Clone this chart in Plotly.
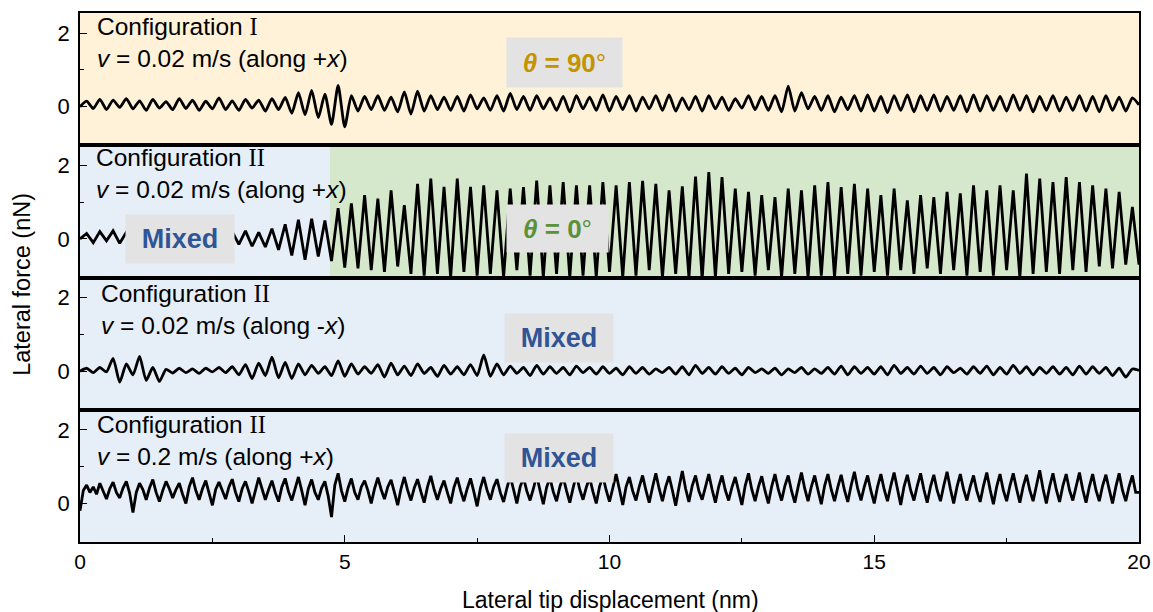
import numpy as np
import plotly.graph_objects as go
from plotly.subplots import make_subplots

# ---------------- data (lateral force, nN) ----------------
STEP_A = 0.125     # nm, sampling of panels 1-3
STEP_B = 0.0625    # nm, sampling of panel 4

force_cfg1_slow_plus = [
    0.0, 0.15, -0.05, 0.2, -0.08, 0.18, -0.02, 0.22,
    -0.06, 0.16, -0.1, 0.2, -0.04, 0.14, -0.08, 0.22,
    -0.05, 0.18, -0.1, 0.15, -0.06, 0.24, -0.08, 0.16,
    -0.1, 0.2, -0.04, 0.18, -0.12, 0.22, -0.08, 0.25,
    -0.18, 0.38, -0.22, 0.44, -0.3, 0.34, -0.48, 0.58,
    -0.55, 0.3, -0.12, 0.28, -0.08, 0.3, -0.1, 0.26,
    -0.14, 0.4, -0.2, 0.42, -0.12, 0.3, -0.08, 0.26,
    -0.1, 0.28, -0.12, 0.32, -0.06, 0.24, -0.1, 0.3,
    -0.12, 0.36, -0.08, 0.28, -0.1, 0.3, -0.06, 0.24,
    -0.1, 0.28, -0.14, 0.3, -0.06, 0.26, -0.1, 0.32,
    -0.12, 0.28, -0.08, 0.3, -0.12, 0.26, -0.06, 0.3,
    -0.1, 0.32, -0.12, 0.24, -0.08, 0.28, -0.12, 0.3,
    -0.06, 0.26, -0.1, 0.22, -0.04, 0.3, -0.08, 0.28,
    -0.1, 0.3, -0.14, 0.56, -0.12, 0.38, -0.06, 0.28,
    -0.1, 0.3, -0.14, 0.26, -0.08, 0.3, -0.12, 0.32,
    -0.12, 0.28, -0.16, 0.3, -0.1, 0.32, -0.14, 0.3,
    -0.1, 0.32, -0.12, 0.28, -0.1, 0.3, -0.14, 0.32,
    -0.12, 0.3, -0.1, 0.28, -0.12, 0.32, -0.1, 0.3,
    -0.14, 0.28, -0.1, 0.3, -0.12, 0.26, -0.1, 0.3,
    -0.12, 0.28, -0.14, 0.3, -0.1, 0.26, -0.12, 0.24, 0.05,
]

force_cfg2_slow_plus = [
    0.0, 0.15, -0.1, 0.2, -0.05, 0.22, -0.12, 0.18,
    -0.08, 0.15, -0.1, 0.2, -0.06, 0.18, -0.1, 0.16,
    -0.08, 0.14, -0.12, 0.2, -0.06, 0.16, -0.1, 0.2,
    -0.15, 0.22, -0.2, 0.18, -0.22, 0.28, -0.3, 0.4,
    -0.45, 0.52, -0.57, 0.55, -0.48, 0.5, -0.6, 0.84,
    -0.78, 0.97, -0.8, 1.19, -0.85, 1.1, -0.9, 1.32,
    -0.75, 0.92, -0.95, 1.5, -1.0, 1.64, -0.95, 1.42,
    -1.05, 1.64, -0.9, 1.42, -1.0, 1.46, -0.95, 1.32,
    -1.05, 1.37, -0.85, 1.41, -1.0, 1.59, -1.05, 1.46,
    -0.95, 1.55, -1.05, 1.46, -1.0, 1.46, -1.05, 1.55,
    -0.9, 1.46, -1.05, 1.55, -1.0, 1.58, -0.85, 1.5,
    -1.05, 1.32, -0.95, 1.43, -1.05, 1.70, -1.1, 1.82,
    -1.05, 1.68, -0.95, 1.37, -0.9, 1.28, -1.0, 1.19,
    -0.85, 1.14, -1.05, 1.37, -0.95, 1.32, -1.05, 1.46,
    -1.0, 1.55, -1.05, 1.41, -0.95, 1.5, -1.0, 1.37,
    -0.9, 1.19, -1.0, 1.37, -0.85, 1.05, -0.95, 1.19,
    -0.8, 1.14, -0.95, 1.28, -0.85, 1.24, -1.0, 1.46,
    -0.9, 1.32, -1.0, 1.46, -0.85, 1.32, -1.05, 1.78,
    -0.95, 1.64, -0.9, 1.55, -0.95, 1.68, -0.85, 1.55,
    -0.9, 1.46, -0.75, 1.37, -0.8, 1.28, -0.7, 0.87, -0.7,
]

force_cfg2_slow_minus = [
    0.0, 0.08, -0.04, 0.1, -0.02, 0.35, -0.3, 0.2,
    -0.1, 0.4, -0.25, 0.1, -0.28, 0.05, -0.05, 0.08,
    -0.04, 0.06, -0.06, 0.08, -0.02, 0.1, -0.04, 0.12,
    -0.1, 0.18, -0.2, 0.22, -0.12, 0.38, -0.18, 0.24,
    -0.2, 0.2, -0.1, 0.16, -0.06, 0.12, -0.12, 0.28,
    -0.14, 0.2, -0.08, 0.12, -0.06, 0.18, -0.16, 0.22,
    -0.1, 0.14, -0.12, 0.2, -0.06, 0.1, -0.14, 0.16,
    -0.08, 0.12, -0.1, 0.18, -0.12, 0.44, -0.14, 0.2,
    -0.1, 0.14, -0.06, 0.1, -0.12, 0.16, -0.08, 0.12,
    -0.06, 0.1, -0.1, 0.14, -0.04, 0.1, -0.08, 0.12,
    -0.06, 0.08, -0.1, 0.12, -0.06, 0.1, -0.08, 0.06,
    -0.04, 0.1, -0.08, 0.12, -0.1, 0.16, -0.06, 0.1,
    -0.08, 0.12, -0.06, 0.08, -0.1, 0.1, -0.04, 0.06,
    -0.06, 0.08, -0.1, 0.06, -0.04, 0.1, -0.08, 0.06,
    -0.06, 0.1, -0.08, 0.14, -0.1, 0.12, -0.06, 0.1,
    -0.08, 0.12, -0.1, 0.16, -0.06, 0.1, -0.08, 0.14,
    -0.06, 0.1, -0.1, 0.12, -0.04, 0.08, -0.08, 0.12,
    -0.06, 0.14, -0.1, 0.1, -0.08, 0.16, -0.06, 0.12,
    -0.1, 0.1, -0.06, 0.12, -0.08, 0.1, -0.1, 0.14,
    -0.08, 0.12, -0.06, 0.1, -0.12, 0.08, -0.16, 0.06, 0.02,
]

force_cfg2_fast_plus = [
    -0.2, 0.35, 0.5, 0.3, 0.45, 0.25, 0.55, 0.35, 0.12, 0.4, 0.58, 0.3, 0.15, 0.42, 0.6, 0.28,
    -0.25, 0.3, 0.55, 0.38, 0.1, 0.42, 0.65, 0.3, 0.05, 0.35, 0.6, 0.4, 0.15, 0.38, 0.55, 0.25,
    0.0, 0.45, 0.7, 0.35, 0.1, 0.4, 0.62, 0.28, -0.05, 0.38, 0.58, 0.35, 0.12, 0.45, 0.66, 0.3,
    0.05, 0.4, 0.6, 0.32, 0.0, 0.35, 0.7, 0.4, 0.1, 0.38, 0.62, 0.3, 0.05, 0.45, 0.68, 0.32,
    0.08, 0.4, 0.72, 0.35, -0.05, 0.4, 0.65, 0.3, 0.1, 0.42, 0.6, 0.2, -0.37, 0.5, 0.82, 0.35,
    0.05, 0.42, 0.68, 0.3, 0.1, 0.45, 0.62, 0.35, 0.0, 0.4, 0.7, 0.38, 0.12, 0.45, 0.64, 0.3,
    -0.05, 0.4, 0.72, 0.36, 0.08, 0.42, 0.66, 0.32, 0.02, 0.45, 0.75, 0.38, 0.1, 0.4, 0.62, 0.3,
    0.0, 0.44, 0.7, 0.35, 0.06, 0.4, 0.68, 0.32, -0.08, 0.42, 0.72, 0.36, 0.1, 0.45, 0.66, 0.3,
    0.04, 0.42, 0.74, 0.38, 0.0, 0.45, 0.7, 0.34, 0.08, 0.4, 0.76, 0.36, -0.02, 0.44, 0.7, 0.32,
    0.06, 0.45, 0.72, 0.35, 0.02, 0.42, 0.78, 0.38, 0.1, 0.44, 0.7, 0.32, 0.0, 0.46, 0.74, 0.36,
    0.05, 0.42, 0.8, 0.38, -0.04, 0.45, 0.72, 0.34, 0.08, 0.46, 0.76, 0.36, 0.02, 0.44, 0.82, 0.4,
    0.06, 0.46, 0.74, 0.36, -0.06, 0.44, 0.88, 0.4, 0.04, 0.48, 0.76, 0.34, 0.1, 0.45, 0.8, 0.38,
    0.02, 0.46, 0.76, 0.36, 0.08, 0.44, 0.72, 0.34, -0.04, 0.48, 0.82, 0.38, 0.06, 0.45, 0.74, 0.34,
    0.0, 0.46, 0.8, 0.38, 0.08, 0.48, 0.76, 0.34, 0.02, 0.45, 0.84, 0.4, 0.06, 0.46, 0.76, 0.36,
    -0.02, 0.48, 0.8, 0.38, 0.06, 0.45, 0.78, 0.36, 0.04, 0.48, 0.86, 0.4, 0.08, 0.46, 0.76, 0.34,
    0.0, 0.46, 0.8, 0.38, 0.06, 0.48, 0.84, 0.4, -0.04, 0.46, 0.78, 0.36, 0.08, 0.48, 0.82, 0.38,
    0.02, 0.46, 0.78, 0.36, 0.06, 0.48, 0.86, 0.4, 0.0, 0.45, 0.8, 0.38, 0.08, 0.46, 0.76, 0.34,
    0.04, 0.48, 0.84, 0.38, -0.02, 0.46, 0.8, 0.36, 0.06, 0.48, 0.82, 0.4, 0.02, 0.46, 0.78, 0.36,
    0.06, 0.48, 0.9, 0.4, 0.0, 0.46, 0.82, 0.38, 0.04, 0.48, 0.8, 0.36, 0.08, 0.46, 0.84, 0.38,
    0.02, 0.46, 0.8, 0.36, 0.06, 0.48, 0.78, 0.38, 0.0, 0.45, 0.82, 0.36, 0.06, 0.46, 0.76, 0.3,
    0.3,
]

green_start_nm = 4.72   # onset of the theta = 0 deg regime in panel 2

panel_titles = ["Configuration", "Configuration", "Configuration", "Configuration"]
panel_numerals = ["I", "II", "II", "II"]
panel_speeds = ["<i>v</i> = 0.02 m/s (along +<i>x</i>)",
                "<i>v</i> = 0.02 m/s (along +<i>x</i>)",
                "<i>v</i> = 0.02 m/s (along -<i>x</i>)",
                "<i>v</i> = 0.2 m/s (along +<i>x</i>)"]

x_ticks = [0, 5, 10, 15, 20]
y_ticks = [0, 2]

# ---------------- figure ----------------
FONT = "Arial, Liberation Sans, sans-serif"
fig = make_subplots(rows=4, cols=1, shared_xaxes=True, vertical_spacing=0)

series = [force_cfg1_slow_plus, force_cfg2_slow_plus, force_cfg2_slow_minus, force_cfg2_fast_plus]
steps = [STEP_A, STEP_A, STEP_A, STEP_B]
shapes_ = ["spline", "linear", "spline", "linear"]
for r, (ys, st, shp) in enumerate(zip(series, steps, shapes_), start=1):
    xs = np.arange(len(ys)) * st
    fig.add_trace(go.Scatter(x=xs, y=ys, mode="lines",
                             line=dict(color="black", width=2.8, shape=shp,
                                       **({"smoothing": 0.6} if shp == "spline" else {})),
                             showlegend=False, hoverinfo="skip"), row=r, col=1)

CREAM, BLUE, GREEN = "#FFF2D9", "#E6EEF8", "#D6E8CC"
fig.add_shape(type="rect", xref="x domain", yref="y domain", x0=0, x1=1, y0=0, y1=1,
              fillcolor=CREAM, line_width=0, layer="below")
fig.add_shape(type="rect", xref="x2", yref="y2 domain", x0=0, x1=green_start_nm, y0=0, y1=1,
              fillcolor=BLUE, line_width=0, layer="below")
fig.add_shape(type="rect", xref="x2", yref="y2 domain", x0=green_start_nm, x1=20, y0=0, y1=1,
              fillcolor=GREEN, line_width=0, layer="below")
fig.add_shape(type="rect", xref="x3 domain", yref="y3 domain", x0=0, x1=1, y0=0, y1=1,
              fillcolor=BLUE, line_width=0, layer="below")
fig.add_shape(type="rect", xref="x4 domain", yref="y4 domain", x0=0, x1=1, y0=0, y1=1,
              fillcolor=BLUE, line_width=0, layer="below")

for r in range(1, 5):
    last = (r == 4)
    fig.update_xaxes(range=[0, 20], showline=True, linecolor="black", linewidth=1.8,
                     mirror=True, showgrid=False, zeroline=False, automargin=False,
                     ticks="inside" if last else "", ticklen=7, tickwidth=1.2,
                     tickcolor="black", tickvals=x_ticks, showticklabels=last,
                     minor=dict(ticks="inside" if last else "", ticklen=4, tickwidth=1.2,
                                tickcolor="black", dtick=2.5, tick0=0),
                     tickfont=dict(family=FONT, size=21, color="black"),
                     row=r, col=1)
    fig.update_yaxes(range=[-1.05, 2.55], showline=True, linecolor="black", linewidth=1.8,
                     mirror=True, showgrid=False, zeroline=False, automargin=False,
                     ticks="inside", ticklen=7, tickwidth=1.2, tickcolor="black",
                     tickvals=y_ticks, ticklabelstandoff=4,
                     minor=dict(ticks="inside", ticklen=4, tickwidth=1.2, tickcolor="black",
                                tickmode="array", tickvals=[1]),
                     tickfont=dict(family=FONT, size=22, color="black"),
                     row=r, col=1)

text_x = [0.28, 0.26, 0.36, 0.28]
text_y = [0.775, 0.79, 0.76, 0.765]
for i in range(4):
    ref = "" if i == 0 else str(i + 1)
    txt = (f"{panel_titles[i]} <span style='font-family:Liberation Serif, Times New Roman, serif'>"
           f"{panel_numerals[i]}</span><br>{panel_speeds[i]}")
    fig.add_annotation(x=text_x[i], y=text_y[i], xref=f"x{ref}", yref=f"y{ref} domain",
                       text=txt, showarrow=False, xanchor="left", yanchor="middle",
                       align="left", font=dict(family=FONT, size=24.5, color="black"))

GRAYBOX = "#E3E3E3"
def label_box(x, y, ref, text, color, w, h, size):
    fig.add_annotation(x=x, y=y, xref=f"x{ref}", yref=f"y{ref}", text=text,
                       showarrow=False, bgcolor=GRAYBOX, width=w, height=h,
                       borderpad=0, align="center", valign="middle",
                       xanchor="center", yanchor="middle",
                       font=dict(family=FONT, size=size, color=color))

label_box(9.15, 1.20, "", "<b><i>θ</i> = 90</b>°", "#C49300", 115, 49, 26)
label_box(9.02, 0.28, "2", "<b><i>θ</i> = 0</b>°", "#5B9137", 101, 47, 26)
label_box(1.89, 0.0, "2", "<b>Mixed</b>", "#2F5597", 108, 48, 27)
label_box(9.05, 0.89, "3", "<b>Mixed</b>", "#2F5597", 108, 48, 27)
label_box(9.05, 1.24, "4", "<b>Mixed</b>", "#2F5597", 108, 48, 27)

fig.add_annotation(x=-0.0548, y=0.488, xref="paper", yref="paper", text="Lateral force (nN)",
                   textangle=-90, showarrow=False, xanchor="center", yanchor="middle",
                   font=dict(family=FONT, size=23.5, color="black"))
fig.add_annotation(x=0.5005, y=-0.1096, xref="paper", yref="paper",
                   text="Lateral tip displacement (nm)", showarrow=False,
                   xanchor="center", yanchor="middle",
                   font=dict(family=FONT, size=23, color="black"))

fig.update_layout(width=1153, height=612, margin=dict(l=80, r=14, t=13, b=70),
                  paper_bgcolor="white", plot_bgcolor="white", showlegend=False)

fig.write_html("out.html", config={"displayModeBar": False},
               post_script="document.body.style.margin='0';document.body.style.overflow='hidden';")
